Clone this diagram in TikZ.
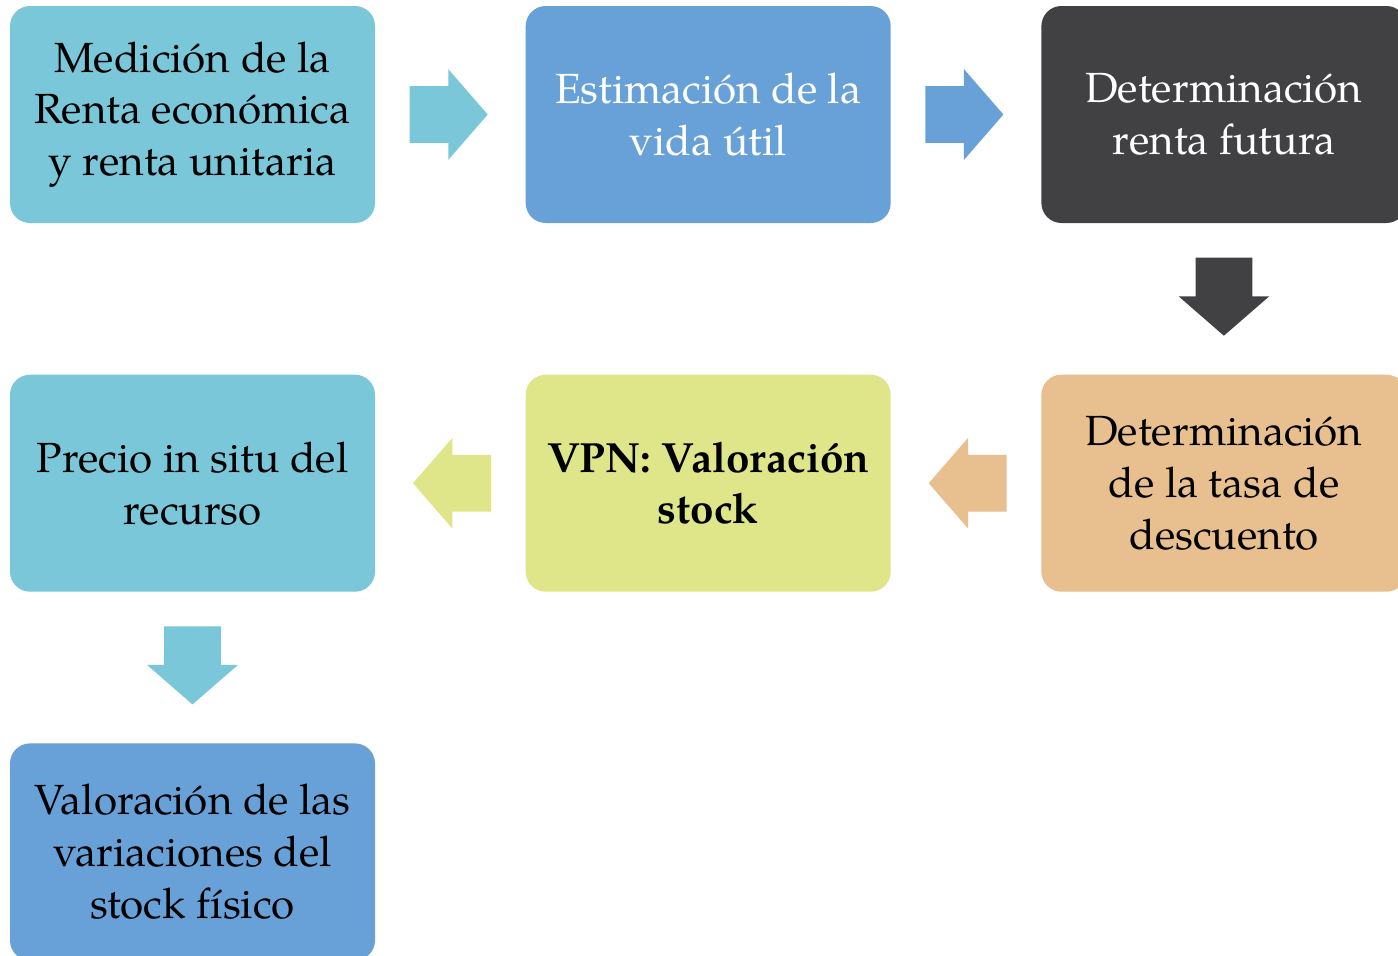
\documentclass[tikz,border=0pt]{standalone}
\usepackage{fontspec}
\setmainfont{TeX Gyre Pagella}
\usetikzlibrary{calc}
\usetikzlibrary{positioning}
\usetikzlibrary{shapes.arrows}
\definecolor{lblue}{RGB}{122,199,218}
\definecolor{mblue}{RGB}{104,161,216}
\definecolor{dgray}{RGB}{65,65,67}
\definecolor{lgreen}{RGB}{223,230,137}
\definecolor{ltan}{RGB}{232,191,142}
\tikzstyle{stepnode} = [rectangle, rounded corners=0.4cm, minimum width=7.3cm, minimum height=4.34cm, align=center, font=\fontsize{24}{29.5}\selectfont]
\tikzstyle{blockarrow} = [single arrow, minimum height=1.56cm, single arrow head extend=0.34cm, single arrow tip angle=98, anchor=tail]
\tikzstyle{harrow} = [blockarrow, inner xsep=0pt, inner ysep=0.56cm]
\tikzstyle{varrow} = [blockarrow, inner xsep=0.56cm, inner ysep=0pt, shape border rotate=270]

\begin{document}
\begin{tikzpicture}
  \useasboundingbox[fill=white] (0,0) rectangle (27.96,-19.1);
  \node[stepnode, fill=lblue] (renta) at (3.85,-2.29) {Medición de la\\Renta económica\\y renta unitaria};
  \node[stepnode, fill=mblue, text=white, right=3.0cm of renta] (vida) {Estimación de la\\vida útil};
  \node[stepnode, fill=dgray, text=white, right=3.0cm of vida] (futura) {Determinación\\renta futura};
  \node[stepnode, fill=ltan, below=3.02cm of futura] (tasa) {Determinación\\de la tasa de\\descuento};
  \node[stepnode, fill=lgreen, left=3.0cm of tasa, font=\fontsize{24}{29.5}\selectfont\bfseries] (vpn) {VPN: Valoración\\stock};
  \node[stepnode, fill=lblue, left=3.0cm of vpn] (precio) {Precio in situ del\\recurso};
  \node[stepnode, fill=mblue, below=3.02cm of precio] (variac) {Valoración de las\\variaciones del\\stock físico};

  \node[harrow, fill=lblue] (a1) at ([xshift=0.68cm]renta.east) {};
  \node[harrow, fill=mblue] (a2) at ([xshift=0.68cm]vida.east) {};
  \node[varrow, fill=dgray] (a3) at ([yshift=-0.68cm]futura.south) {};
  \node[harrow, fill=ltan, shape border rotate=180] (a4) at ([xshift=-0.68cm]tasa.west) {};
  \node[harrow, fill=lgreen, shape border rotate=180] (a5) at ([xshift=-0.68cm]vpn.west) {};
  \node[varrow, fill=lblue] (a6) at ([yshift=-0.68cm]precio.south) {};
\end{tikzpicture}
\end{document}
